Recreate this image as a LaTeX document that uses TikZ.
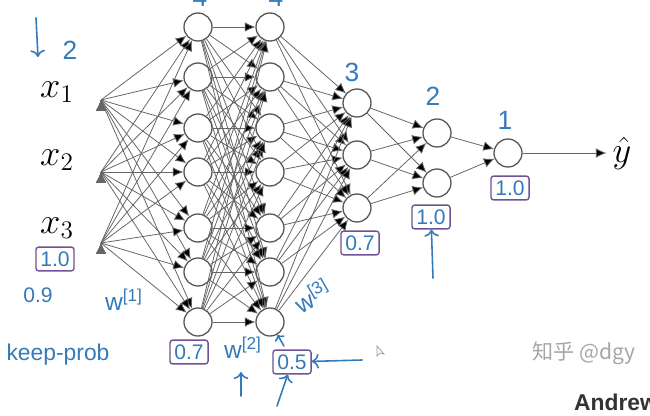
\documentclass[tikz,border=0pt]{standalone}
\usepackage{amsmath}
\usepackage{fontspec}
\usepackage{tikz}
\usetikzlibrary{positioning, arrows.meta}
\newfontfamily\handfont{Liberation Sans}
\newfontfamily\cjkfont{Noto Sans CJK SC}
\definecolor{inkblue}{RGB}{52,122,186}
\definecolor{inkpurple}{RGB}{112,82,150}

\begin{document}
\begin{tikzpicture}[x=0.02cm, y=-0.02cm,
  neuron/.style={circle, draw=black!65, line width=0.75pt, minimum size=0.56cm, inner sep=0pt},
  link/.style={draw=black!60, line width=0.45pt, -{Latex[length=6pt, width=5.5pt]}},
  ink/.style={text=inkblue, font=\handfont\fontsize{12}{14}\selectfont},
  bigink/.style={ink, font=\handfont\fontsize{15}{17}\selectfont},
  probbox/.style={ink, draw=inkpurple, line width=0.8pt, rounded corners=1.5pt, inner sep=2.5pt},
  inkline/.style={draw=inkblue, line width=0.9pt, line cap=round}]
   \useasboundingbox (0,0) rectangle (650,416);
   \clip (0,0) rectangle (650,416);

   % 输入层
   \node (x1) at (57,92)  {\fontsize{20}{22}\selectfont $x_1$};
   \node (x2) at (57,160) {\fontsize{20}{22}\selectfont $x_2$};
   \node (x3) at (57,228) {\fontsize{20}{22}\selectfont $x_3$};
   \coordinate (i1) at (101,100);
   \coordinate (i2) at (101,172);
   \coordinate (i3) at (101,243);

   % 第一、二隐藏层（各7个）
   \foreach \n/\y in {1/27, 2/77, 3/128, 4/172, 5/228, 6/272, 7/322} {
     \node[neuron] (a\n) at (198,\y) {};
     \node[neuron] (b\n) at (270,\y) {};
   }
   % 第三层（3个），第四层（2个），输出层
   \node[neuron] (c1) at (357,103) {};
   \node[neuron] (c2) at (357,155) {};
   \node[neuron] (c3) at (357,208) {};
   \node[neuron] (d1) at (437,133) {};
   \node[neuron] (d2) at (437,183) {};
   \node[neuron] (e1) at (508,153) {};
   \node (yhat) at (622,153) {\fontsize{20}{22}\selectfont $\hat{y}$};

   % 连接
   \foreach \i in {1,2,3} \foreach \j in {1,...,7} \path[link] (i\i) edge (a\j);
   \foreach \i in {1,...,7} \foreach \j in {1,...,7} \path[link] (a\i) edge (b\j);
   \foreach \i in {1,...,7} \foreach \j in {1,2,3} \path[link] (b\i) edge (c\j);
   \foreach \i in {1,2,3} \foreach \j in {1,2} \path[link] (c\i) edge (d\j);
   \foreach \i in {1,2} \path[link] (d\i) edge (e1);
   \path[link] (e1) edge (yhat);

   % 手写标注：每层单元数
   \draw[inkline, -{To[length=4pt]}] (36,18) -- (38,57);
   \node[bigink] (n0) at (70,50) {2};
   \node[bigink] (n1) at (200,-3) {4};
   \node[bigink] (n2) at (276,-3) {4};
   \node[bigink] (n3) at (352,72) {3};
   \node[bigink] (n4) at (433,96) {2};
   \node[bigink] (n5) at (505,120) {1};

   % keep-prob 的取值
   \node[probbox] (k0) at (55,259) {1.0};
   \node[ink] (k9) at (38,295) {0.9};
   \node[probbox] (k1) at (189,352) {0.7};
   \node[probbox] (k2) at (292,362) {0.5};
   \node[probbox] (k3) at (360,243) {0.7};
   \node[probbox] (k4) at (431,217) {1.0};
   \node[probbox] (k5) at (510,188) {1.0};
   \node[ink, font=\handfont\fontsize{13}{15}\selectfont] (kp) at (58,355) {keep-prob};

   % 权重矩阵
   \node[ink, font=\handfont\fontsize{14}{16}\selectfont] (w1) at (124,300) {w\textsuperscript{[1]}};
   \node[ink, font=\handfont\fontsize{14}{16}\selectfont] (w2) at (243,348) {w\textsuperscript{[2]}};
   \node[ink, font=\handfont\fontsize{14}{16}\selectfont, rotate=30] (w3) at (312,296) {w\textsuperscript{[3]}};

   % 箭头
   \coordinate (u1) at (241,396);
   \coordinate (u2) at (277,406);
   \coordinate (u3) at (433,278);
   \coordinate (u4) at (362,360);
   \coordinate (u5) at (284,346);
   \draw[inkline, -{To[length=4pt]}] (u1) -- ++(0,-24);
   \draw[inkline, -{To[length=4pt]}] (u2) -- (k2);
   \draw[inkline, -{To[length=4pt]}] (u3) -- (k4);
   \draw[inkline, -{To[length=4pt]}] (u4) -- (k2);
   \draw[inkline, -{To[length=3pt]}] (u5) -- (b7);

   % 光标
   \draw[black!40, line width=0.4pt] (377,346) -- (377,356) -- (380,353) -- (384,354) -- cycle;

   % 水印
   \node[text=black!35, font=\cjkfont\fontsize{12}{14}\selectfont] (wm) at (584,353) {知乎 @dgy};
   \node[anchor=west, text=black!80, font=\handfont\bfseries\fontsize{13}{15}\selectfont] (ng) at (568,402) {Andrew};
\end{tikzpicture}
\end{document}
